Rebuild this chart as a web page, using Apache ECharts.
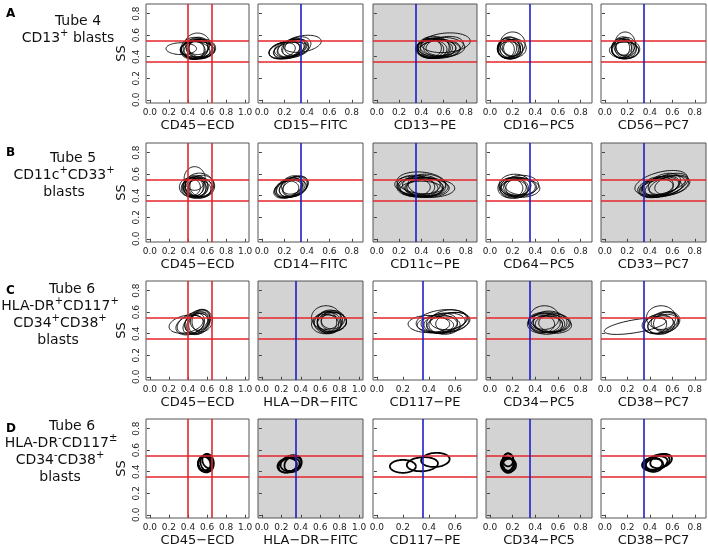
<!DOCTYPE html>
<html><head><meta charset="utf-8">
<script src="https://cdn.jsdelivr.net/npm/echarts@6/dist/echarts.min.js"></script>
<style>html,body{margin:0;padding:0;background:#fff}#c{width:708px;height:549px}</style>
</head><body><div id="c"></div>
<script>
// ---------- data ----------
const rowLetters = ['A','B','C','D'];
const rowLabelLines = [
  ['Tube 4','CD13{s|+} blasts'],
  ['Tube 5','CD11c{s|+}CD33{s|+}','blasts'],
  ['Tube 6','HLA-DR{s|+}CD117{s|+}','CD34{s|+}CD38{s|+}','blasts'],
  ['Tube 6','HLA-DR{s|-}CD117{s|±}','CD34{s|-}CD38{s|+}','blasts']
];
const xAxisNames = [
  ['CD45\u2212ECD','CD15\u2212FITC','CD13\u2212PE','CD16\u2212PC5','CD56\u2212PC7'],
  ['CD45\u2212ECD','CD14\u2212FITC','CD11c\u2212PE','CD64\u2212PC5','CD33\u2212PC7'],
  ['CD45\u2212ECD','HLA\u2212DR\u2212FITC','CD117\u2212PE','CD34\u2212PC5','CD38\u2212PC7'],
  ['CD45\u2212ECD','HLA\u2212DR\u2212FITC','CD117\u2212PE','CD34\u2212PC5','CD38\u2212PC7']
];
const greyPanels = [[2],[2,4],[1,3],[1,3]];
const xRangeKind = [
  ['w','n','n','n','n'],
  ['w','n','n','n','n'],
  ['w','w','s','n','n'],
  ['w','w','s','n','n']
];
const xTicksWide = [0,0.2,0.4,0.6,0.8,1.0];
const xTicksNormal = [0,0.2,0.4,0.6,0.8];
const xTicksShort = [0,0.2,0.4,0.6];
const yTicks = [0,0.2,0.4,0.6,0.8];
const ssLines = [0.35, 0.55];
const cd45Lines = [0.4, 0.65];
const markerCut = 0.35;

// ellipses: [cx, cy, rx, ry, angleDeg]
const A1 = [[0.33,0.475,0.16,0.055,0],[0.50,0.52,0.13,0.10,0],[0.49,0.47,0.16,0.09,5],[0.50,0.46,0.18,0.08,0],[0.47,0.48,0.14,0.10,0],[0.52,0.47,0.16,0.085,5],[0.45,0.46,0.13,0.085,0],[0.55,0.48,0.14,0.085,0],[0.50,0.49,0.12,0.09,10],[0.48,0.46,0.15,0.08,-5],[0.53,0.47,0.13,0.09,0],[0.46,0.47,0.11,0.095,0],[0.51,0.48,0.10,0.09,0],[0.49,0.47,0.17,0.075,0]];
const A2 = [[0.36,0.52,0.17,0.075,10],[0.22,0.465,0.16,0.075,15],[0.25,0.47,0.15,0.08,20],[0.20,0.46,0.14,0.075,15],[0.27,0.48,0.14,0.075,20],[0.23,0.47,0.12,0.075,10],[0.30,0.48,0.12,0.075,20],[0.18,0.46,0.12,0.07,15],[0.26,0.46,0.16,0.07,10],[0.28,0.49,0.11,0.075,25],[0.24,0.47,0.10,0.07,15],[0.32,0.50,0.12,0.08,20]];
const A3 = [[0.62,0.53,0.22,0.09,5],[0.53,0.48,0.18,0.09,0],[0.56,0.47,0.19,0.085,5],[0.49,0.47,0.14,0.085,0],[0.59,0.49,0.20,0.09,0],[0.51,0.48,0.15,0.095,0],[0.54,0.48,0.17,0.08,0],[0.48,0.47,0.12,0.085,0],[0.57,0.47,0.18,0.08,0],[0.61,0.50,0.17,0.085,10],[0.51,0.49,0.14,0.10,0],[0.55,0.48,0.13,0.075,0],[0.47,0.48,0.11,0.09,0]];
const A4 = [[0.20,0.52,0.11,0.11,0],[0.17,0.47,0.10,0.09,0],[0.18,0.48,0.11,0.10,0],[0.16,0.47,0.09,0.085,0],[0.19,0.47,0.10,0.09,0],[0.15,0.48,0.085,0.09,0],[0.19,0.48,0.08,0.08,0],[0.17,0.46,0.10,0.08,0],[0.22,0.48,0.10,0.085,0],[0.17,0.49,0.09,0.095,0],[0.14,0.47,0.075,0.08,0]];
const A5 = [[0.18,0.52,0.09,0.11,0],[0.17,0.47,0.11,0.09,0],[0.15,0.47,0.09,0.085,0],[0.18,0.46,0.12,0.08,0],[0.16,0.48,0.10,0.09,0],[0.20,0.47,0.11,0.085,0],[0.14,0.48,0.08,0.09,0],[0.19,0.49,0.09,0.09,0],[0.17,0.46,0.13,0.075,0],[0.16,0.50,0.08,0.085,0]];
const B1 = [[0.47,0.56,0.11,0.11,0],[0.50,0.48,0.15,0.095,0],[0.48,0.49,0.13,0.10,0],[0.52,0.50,0.15,0.11,0],[0.46,0.47,0.13,0.09,0],[0.49,0.48,0.12,0.095,0],[0.53,0.47,0.13,0.09,0],[0.45,0.48,0.11,0.09,0],[0.50,0.46,0.14,0.085,0],[0.47,0.49,0.10,0.09,0],[0.55,0.49,0.13,0.10,0],[0.42,0.48,0.11,0.085,0],[0.50,0.48,0.09,0.085,0]];
const B2 = [[0.27,0.48,0.15,0.085,25],[0.25,0.47,0.14,0.08,20],[0.28,0.48,0.13,0.085,25],[0.23,0.46,0.13,0.075,20],[0.30,0.49,0.12,0.085,30],[0.26,0.47,0.11,0.075,20],[0.24,0.48,0.12,0.08,25],[0.29,0.47,0.11,0.075,20],[0.22,0.46,0.11,0.075,15],[0.27,0.50,0.10,0.08,30]];
const B3 = [[0.40,0.52,0.22,0.10,-5],[0.38,0.49,0.22,0.09,-5],[0.42,0.48,0.22,0.09,0],[0.35,0.49,0.17,0.10,-5],[0.45,0.47,0.20,0.085,0],[0.40,0.50,0.17,0.09,0],[0.37,0.48,0.18,0.085,-5],[0.43,0.48,0.16,0.09,0],[0.48,0.47,0.22,0.085,0],[0.33,0.48,0.15,0.085,0],[0.40,0.46,0.19,0.075,0],[0.45,0.50,0.17,0.10,-5]];
const B4 = [[0.22,0.50,0.14,0.10,0],[0.25,0.48,0.16,0.09,0],[0.20,0.48,0.12,0.09,0],[0.27,0.47,0.17,0.085,0],[0.23,0.49,0.13,0.085,0],[0.18,0.47,0.11,0.09,0],[0.26,0.48,0.14,0.08,0],[0.21,0.46,0.12,0.085,0],[0.28,0.50,0.15,0.09,0],[0.24,0.47,0.10,0.085,0]];
const B5 = [[0.50,0.52,0.24,0.10,15],[0.52,0.49,0.20,0.09,15],[0.48,0.48,0.18,0.085,15],[0.55,0.50,0.20,0.09,20],[0.45,0.47,0.16,0.085,10],[0.50,0.49,0.17,0.085,15],[0.57,0.49,0.18,0.085,15],[0.53,0.51,0.15,0.09,20],[0.47,0.49,0.14,0.085,10],[0.60,0.50,0.16,0.085,15],[0.50,0.47,0.19,0.08,10]];
const C1 = [[0.38,0.49,0.18,0.08,10],[0.45,0.50,0.17,0.09,20],[0.50,0.51,0.14,0.10,30],[0.52,0.50,0.12,0.095,35],[0.48,0.49,0.14,0.085,25],[0.55,0.52,0.11,0.10,30],[0.42,0.48,0.15,0.085,15],[0.50,0.49,0.12,0.09,30],[0.53,0.53,0.11,0.09,35],[0.47,0.50,0.11,0.085,30]];
const C2 = [[0.66,0.55,0.15,0.11,0],[0.70,0.51,0.17,0.095,0],[0.68,0.50,0.14,0.10,0],[0.72,0.51,0.15,0.09,5],[0.65,0.49,0.14,0.09,0],[0.70,0.52,0.13,0.10,0],[0.74,0.51,0.13,0.085,0],[0.69,0.49,0.12,0.085,0],[0.67,0.51,0.10,0.10,0],[0.73,0.53,0.12,0.085,5]];
const C3 = [[0.40,0.49,0.16,0.08,0],[0.50,0.52,0.20,0.10,10],[0.52,0.50,0.16,0.09,10],[0.48,0.49,0.14,0.085,0],[0.55,0.50,0.17,0.09,15],[0.50,0.50,0.12,0.09,10],[0.45,0.48,0.14,0.075,0],[0.55,0.53,0.14,0.09,10],[0.52,0.48,0.12,0.085,0],[0.58,0.51,0.13,0.085,15]];
const C4 = [[0.48,0.55,0.13,0.11,0],[0.52,0.51,0.18,0.09,-5],[0.50,0.50,0.16,0.09,-5],[0.55,0.49,0.17,0.085,-5],[0.48,0.50,0.14,0.09,0],[0.53,0.51,0.15,0.10,-5],[0.50,0.48,0.14,0.085,0],[0.57,0.50,0.14,0.085,0],[0.45,0.49,0.12,0.085,0],[0.52,0.49,0.12,0.075,0]];
const C5 = [[0.27,0.47,0.28,0.06,10],[0.50,0.55,0.13,0.11,0],[0.50,0.50,0.16,0.09,15],[0.52,0.49,0.14,0.085,15],[0.47,0.49,0.14,0.085,10],[0.55,0.51,0.12,0.09,20],[0.50,0.48,0.12,0.085,10],[0.45,0.48,0.10,0.08,10],[0.53,0.52,0.12,0.085,15]];
const D1 = [[0.58,0.47,0.065,0.08,30],[0.60,0.48,0.065,0.08,30],[0.57,0.47,0.065,0.07,20],[0.61,0.50,0.055,0.07,30],[0.58,0.48,0.075,0.065,20]];
const D2 = [[0.28,0.46,0.11,0.065,15],[0.30,0.48,0.11,0.07,15],[0.26,0.46,0.10,0.065,10],[0.32,0.47,0.09,0.07,20]];
const D3 = [[0.20,0.45,0.10,0.06,0],[0.35,0.47,0.12,0.065,5],[0.45,0.51,0.11,0.065,5]];
const D4 = [[0.16,0.46,0.055,0.07,0],[0.16,0.49,0.05,0.08,0],[0.15,0.47,0.055,0.065,0],[0.17,0.46,0.06,0.06,0],[0.16,0.51,0.045,0.06,0]];
const D5 = [[0.42,0.47,0.09,0.06,10],[0.47,0.49,0.11,0.065,20],[0.45,0.48,0.11,0.06,15],[0.50,0.50,0.10,0.06,20],[0.44,0.46,0.08,0.06,10]];
const ellipseSets = [[A1,A2,A3,A4,A5],[B1,B2,B3,B4,B5],[C1,C2,C3,C4,C5],[D1,D2,D3,D4,D5]];

// ---------- layout ----------
const colLeft = [146, 258, 373, 486, 601];
const colWidth = [103, 105, 104, 106, 105];
const rowTop = [4, 143, 281, 419];
const panelH = 99;
const rangeOf = {w:[-0.04,1.04], n:[-0.035,0.9], s:[-0.03,0.77]};
const ticksOf = {w:xTicksWide, n:xTicksNormal, s:xTicksShort};
const Y_RANGE = [-0.03, 0.89];
const FONT = 'DejaVu Sans';

const grids=[], xAxes=[], yAxes=[], series=[];
let idx = 0;
for (let r=0;r<4;r++){
  for (let c=0;c<5;c++){
    const grey = greyPanels[r].includes(c);
    grids.push({left:colLeft[c], top:rowTop[r], width:colWidth[c], height:panelH,
      show:true, borderColor:'#555', borderWidth:1, backgroundColor: grey ? '#d3d3d3' : '#ffffff'});
    const k = xRangeKind[r][c];
    xAxes.push({type:'value', gridIndex:idx, min:rangeOf[k][0], max:rangeOf[k][1],
      axisLine:{show:false}, splitLine:{show:false},
      axisTick:{show:true, length:3, customValues:ticksOf[k], lineStyle:{color:'#444'}},
      axisLabel:{customValues:ticksOf[k], formatter:v=>v.toFixed(1), fontSize:9, margin:5, color:'#222', fontFamily:FONT},
      name:xAxisNames[r][c], nameLocation:'middle', nameGap:16,
      nameTextStyle:{fontSize:13, color:'#111', fontFamily:FONT}});
    yAxes.push({type:'value', gridIndex:idx, min:Y_RANGE[0], max:Y_RANGE[1],
      axisLine:{show:false}, splitLine:{show:false},
      axisTick:{show:true, length:3, customValues:yTicks, lineStyle:{color:'#444'}},
      axisLabel:{show:c===0, customValues:yTicks, formatter:v=>v.toFixed(1), rotate:90, fontSize:9, margin:5, color:'#222', fontFamily:FONT},
      name: c===0 ? 'SS' : '', nameLocation:'middle', nameGap:18, nameRotate:90,
      nameTextStyle:{fontSize:13, color:'#111', fontFamily:FONT}});
    const lw = r===3 ? 1.8 : 0.9;
    series.push({type:'custom', xAxisIndex:idx, yAxisIndex:idx, z:2,
      data: ellipseSets[r][c], encode:{x:0,y:1}, clip:true,
      renderItem:(params, api)=>{
        const cx=api.value(0), cy=api.value(1), rx=api.value(2), ry=api.value(3), a=api.value(4)*Math.PI/180;
        const pts=[];
        for(let i=0;i<=72;i++){
          const t=i/72*2*Math.PI;
          const dx=rx*Math.cos(t), dy=ry*Math.sin(t);
          pts.push(api.coord([cx+dx*Math.cos(a)-dy*Math.sin(a), cy+dx*Math.sin(a)+dy*Math.cos(a)]));
        }
        return {type:'polyline', shape:{points:pts}, style:{fill:null, stroke:'#000', lineWidth:lw}};
      }});
    const ml = ssLines.map(v=>({yAxis:v, lineStyle:{color:'#e3262b'}}));
    if (c===0) cd45Lines.forEach(v=>ml.push({xAxis:v, lineStyle:{color:'#e3262b'}}));
    else ml.push({xAxis:markerCut, lineStyle:{color:'#1f1fc8'}});
    series.push({type:'line', xAxisIndex:idx, yAxisIndex:idx, data:[], z:5,
      markLine:{silent:true, symbol:['none','none'], label:{show:false}, animation:false,
        lineStyle:{type:'solid', width:1.6}, data:ml}});
    idx++;
  }
}

// row labels
const labelPos = [
  [[78,20],[68,37]],
  [[73,157],[64,174],[64,191]],
  [[72,288],[60,305],[60,322],[58,339]],
  [[72,425],[61,442],[60,459],[60,476]]
];
const graphics=[];
for (let r=0;r<4;r++){
  graphics.push({type:'text', left:6, top:rowTop[r]+4, style:{text:rowLetters[r], font:'bold 12px '+FONT, fill:'#000'}});
  rowLabelLines[r].forEach((ln,i)=>{
    graphics.push({type:'text', x:labelPos[r][i][0], y:labelPos[r][i][1],
      style:{text:'{m|'+ln.replace(/\{s\|([^}]*)\}/g,'}{s|$1}{m|')+'}', align:'center', verticalAlign:'middle',
        rich:{m:{fontSize:14, fontFamily:FONT, fill:'#111', color:'#111', lineHeight:17, verticalAlign:'bottom'},
              s:{fontSize:10, fontFamily:FONT, fill:'#111', color:'#111', lineHeight:9, verticalAlign:'top'}}}});
  });
}

const chart = echarts.init(document.getElementById('c'), null, {renderer:'canvas'});
chart.setOption({animation:false, backgroundColor:'#fff', grid:grids, xAxis:xAxes, yAxis:yAxes, series:series, graphic:graphics});
</script></body></html>
